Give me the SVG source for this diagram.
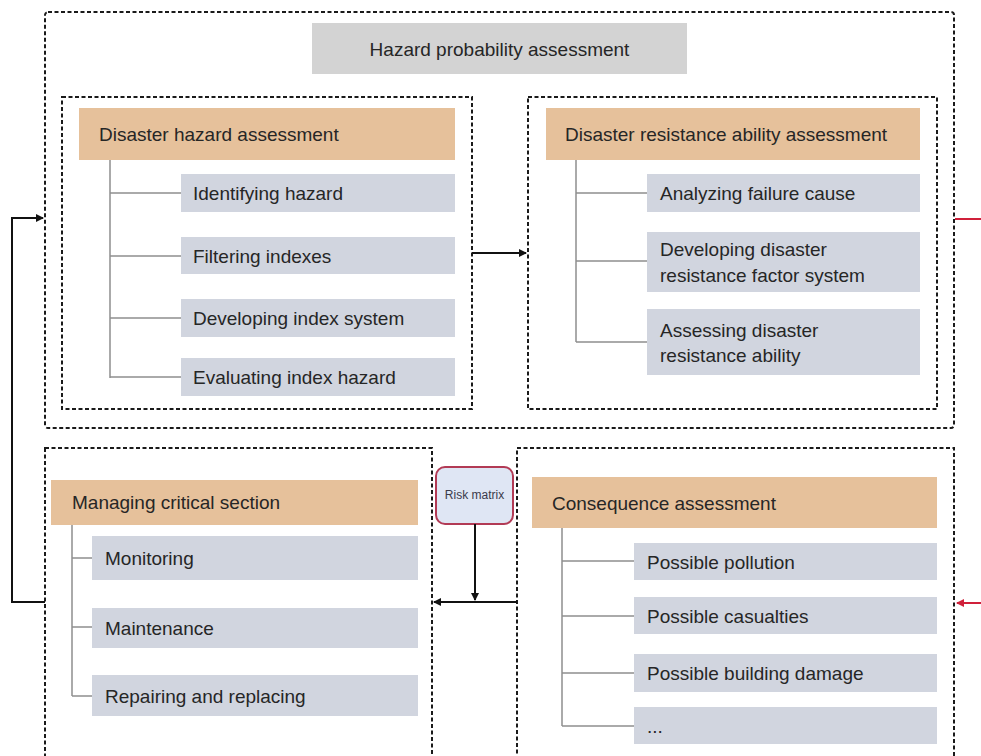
<svg xmlns="http://www.w3.org/2000/svg" width="981" height="756" viewBox="0 0 981 756">
<defs>
<marker id="ah" markerWidth="8" markerHeight="8" refX="7" refY="4" orient="auto" markerUnits="userSpaceOnUse"><path d="M0,0 L8,4 L0,8 Z" fill="#111"/></marker>
<marker id="ahr" markerWidth="8" markerHeight="8" refX="7" refY="4" orient="auto" markerUnits="userSpaceOnUse"><path d="M0,0 L8,4 L0,8 Z" fill="#d0203a"/></marker>
<style>
.dash{fill:none;stroke:#1a1a1a;stroke-width:2;stroke-dasharray:4 2.5}
.head{fill:#e6c19b}
.item{fill:#d1d5df}
.title{fill:#d3d3d3}
.t{font-family:"Liberation Sans",Arial,sans-serif;font-size:19px;fill:#262626;dominant-baseline:central}
.tree{fill:none;stroke:#8f8f8f;stroke-width:1.5}
.conn{fill:none;stroke:#111;stroke-width:2}
.red{fill:none;stroke:#d0203a;stroke-width:2}
</style>
</defs>
<rect width="981" height="756" fill="#fff"/>

<g id="hazard-probability">
<rect class="dash" x="45" y="12" width="909" height="416" rx="3"/>
<rect class="title" x="312" y="23" width="375" height="51"/>
<text class="t" x="499.5" y="49" text-anchor="middle">Hazard probability assessment</text>
</g>

<g id="disaster-hazard">
<rect class="dash" x="62" y="97" width="410" height="312"/>
<rect class="head" x="79" y="108" width="376" height="52"/>
<text class="t" x="99" y="134">Disaster hazard assessment</text>
<path class="tree" d="M110,160 V378 M110,193 H181 M110,256 H181 M110,318 H181 M110,377 H181"/>
<rect class="item" x="181" y="174" width="274" height="38"/>
<text class="t" x="193" y="193">Identifying hazard</text>
<rect class="item" x="181" y="237" width="274" height="37"/>
<text class="t" x="193" y="256">Filtering indexes</text>
<rect class="item" x="181" y="299" width="274" height="38"/>
<text class="t" x="193" y="318">Developing index system</text>
<rect class="item" x="181" y="358" width="274" height="38"/>
<text class="t" x="193" y="377">Evaluating index hazard</text>
</g>

<g id="disaster-resistance">
<rect class="dash" x="528" y="97" width="409" height="312"/>
<rect class="head" x="546" y="108" width="374" height="52"/>
<text class="t" x="565" y="134">Disaster resistance ability assessment</text>
<path class="tree" d="M576,160 V342 M576,193 H647 M576,261 H647 M576,342 H647"/>
<rect class="item" x="647" y="174" width="273" height="38"/>
<text class="t" x="660" y="193">Analyzing failure cause</text>
<rect class="item" x="647" y="232" width="273" height="60"/>
<text class="t" x="660" y="249">Developing disaster</text>
<text class="t" x="660" y="275">resistance factor system</text>
<rect class="item" x="647" y="309" width="273" height="66"/>
<text class="t" x="660" y="330">Assessing disaster</text>
<text class="t" x="660" y="355">resistance ability</text>
</g>

<g id="managing-critical">
<rect class="dash" x="45" y="448" width="387" height="330"/>
<rect class="head" x="51" y="480" width="367" height="45"/>
<text class="t" x="72" y="502">Managing critical section</text>
<path class="tree" d="M72,525 V696 M72,558 H92 M72,627 H92 M72,696 H92"/>
<rect class="item" x="92" y="536" width="326" height="44"/>
<text class="t" x="105" y="558">Monitoring</text>
<rect class="item" x="92" y="608" width="326" height="40"/>
<text class="t" x="105" y="628">Maintenance</text>
<rect class="item" x="92" y="675" width="326" height="41"/>
<text class="t" x="105" y="696">Repairing and replacing</text>
</g>

<g id="consequence">
<rect class="dash" x="517" y="448" width="437" height="330"/>
<rect class="head" x="532" y="477" width="405" height="51"/>
<text class="t" x="552" y="503">Consequence assessment</text>
<path class="tree" d="M562,528 V726 M562,561 H634 M562,616 H634 M562,673 H634 M562,726 H634"/>
<rect class="item" x="634" y="543" width="303" height="37"/>
<text class="t" x="647" y="562">Possible pollution</text>
<rect class="item" x="634" y="597" width="303" height="37"/>
<text class="t" x="647" y="616">Possible casualties</text>
<rect class="item" x="634" y="654" width="303" height="38"/>
<text class="t" x="647" y="673">Possible building damage</text>
<rect class="item" x="634" y="707" width="303" height="37"/>
<text class="t" x="647" y="726">...</text>
</g>

<g id="risk-matrix">
<rect x="436" y="467" width="77" height="57" rx="9" fill="#dfe6f4" stroke="#b23a55" stroke-width="2"/>
<text x="474.5" y="495" text-anchor="middle" font-family="'Liberation Sans',Arial,sans-serif" font-size="12" fill="#3a3a4a" dominant-baseline="central">Risk matrix</text>
</g>

<g id="connectors">
<path class="conn" d="M472,253 H526" marker-end="url(#ah)"/>
<path class="conn" d="M45,602 H12 V218 H43" marker-end="url(#ah)"/>
<path class="conn" d="M475,524 V600" marker-end="url(#ah)"/>
<path class="conn" d="M517,602 H434" marker-end="url(#ah)"/>
<path class="red" d="M955,219 H981"/>
<path class="red" d="M981,603 H957" marker-end="url(#ahr)"/>
</g>
</svg>
